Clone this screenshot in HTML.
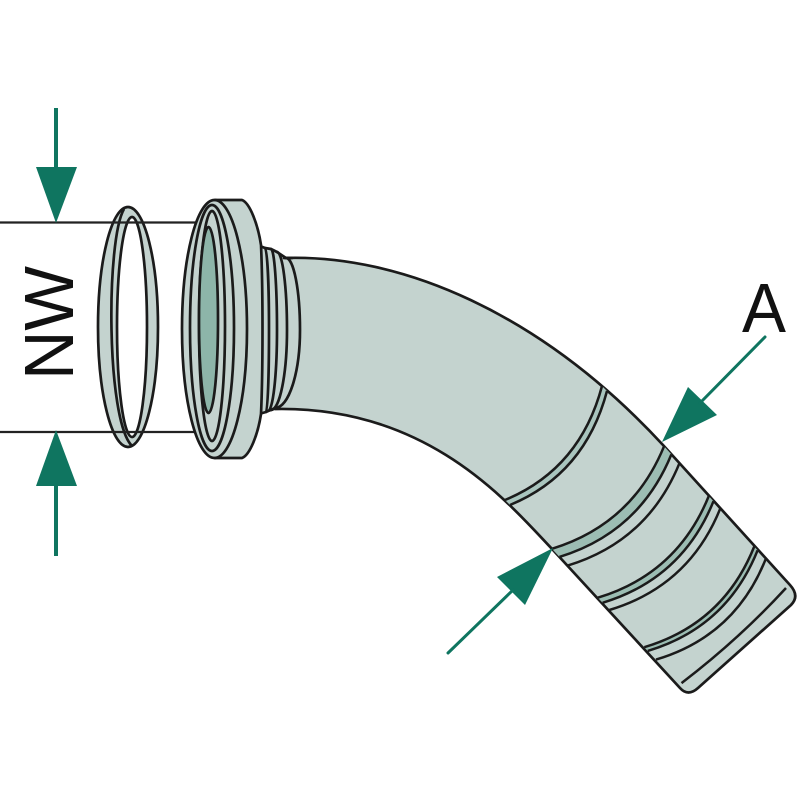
<!DOCTYPE html>
<html>
<head>
<meta charset="utf-8">
<style>
html,body{margin:0;padding:0;background:#fff}
svg{display:block}
</style>
</head>
<body>
<svg width="800" height="800" viewBox="0 0 800 800" xmlns="http://www.w3.org/2000/svg">
<rect width="800" height="800" fill="#ffffff"/>

<!-- O-ring -->
<g stroke="#1b1b1b" stroke-width="2.7">
  <ellipse cx="128" cy="327" rx="30" ry="120" fill="#c4d3cf"/>
  <path d="M124,209 C106,240 106,420 132,446" fill="none"/>
  <ellipse cx="132" cy="327" rx="15" ry="110" fill="#ffffff"/>
</g>

<!-- NW dimension lines -->
<g stroke="#222" stroke-width="2.2">
  <line x1="0" y1="222.5" x2="214" y2="222.5"/>
  <line x1="0" y1="432" x2="214" y2="432"/>
</g>

<!-- Pipe body -->
<path d="M284,258 C400,254 540,312 663,445 L790,585 Q800,596 791,605 L698,688 Q688,697 680,688 L553,550 C510,505 430,406 275,409 L270,330 Z" fill="#c4d3cf" stroke="none"/>

<!-- Neck fill -->
<path d="M248,244 L265,248 L271,249 L277,252 L286,258 C293.7,258 300,290.4 300,330 C300,372.9 288.75,408 275,408 L250,416 Z" fill="#c4d3cf" stroke="none"/>

<g fill="none" stroke="#1b1b1b" stroke-width="2.7" stroke-linejoin="round" stroke-linecap="round">
  <!-- threads -->
  <path d="M265,248 C267.2,248 269,284.9 269,330 C269,375.1 267.65,412 266,412"/>
  <path d="M271,249 C274.3,249 277,285.45 277,330 C277,374.55 273,411 268,411"/>
  <path d="M277,252 C282.5,252 287,287.1 287,330 C287,374 279.8,410 271,410"/>
  <path d="M286,258 C293.7,258 300,290.4 300,330 C300,372.9 288.75,408 275,408"/>
  <path d="M260,246 L265,248 L271,249 L277,252 L286,258 L292,258"/>
  <path d="M259,414 L266,412 L268,411 L271,410 L275,408"/>
  <!-- pipe outline -->
  <path d="M284,258 C400,254 540,312 663,445 L790,585 Q800,596 791,605 L698,688 Q688,697 680,688 L553,550 C510,505 430,406 275,409"/>
</g>

<!-- Flange -->
<g stroke="#1b1b1b" stroke-width="2.7" stroke-linejoin="round">
  <path d="M214.5,200 L242,200 C250,203 258,225 261,245 C263,290 263,370 261,414 C258,434 250,455 242,458 L214.5,458 A32.5,129 0 0 1 214.5,200 Z" fill="#c4d3cf"/>
  <path d="M214.5,200 A32.5,129 0 0 1 214.5,458" fill="none"/>
  <ellipse cx="212" cy="328" rx="22" ry="123" fill="none"/>
  <ellipse cx="212" cy="326" rx="13" ry="115" fill="#c4d3cf"/>
  <ellipse cx="208.5" cy="320" rx="9.5" ry="93" fill="#8db5a9"/>
</g>

<!-- Bands -->
<g stroke="#1b1b1b" stroke-width="2.5" stroke-linejoin="round">
  <path d="M602,386 Q580,469 505,500 L510,505 Q585,474 607,391 Z" fill="#a9c5be" stroke="none"/>
  <path d="M602,386 Q580,469 505,500" fill="none"/>
  <path d="M607,391 Q585,474 510,505" fill="none"/>

  <path d="M664.1,446.2 Q632.1,524.2 551.9,548.8 L559.4,556.9 Q639.5,532.3 671.4,454.4 Z" fill="#9cbdb3" stroke="none"/>
  <path d="M664.1,446.2 Q632.1,524.2 551.9,548.8" fill="none"/>
  <path d="M671.4,454.4 Q639.5,532.3 559.4,556.9" fill="none"/>
  <path d="M679.4,463.3 Q647.7,541.2 567.7,565.6" fill="none"/>

  <path d="M708.8,496 Q677.4,573.6 597.8,597.7 L602.6,602.8 Q682.1,578.7 713.5,501.2 Z" fill="#9cbdb3" stroke="none"/>
  <path d="M708.8,496 Q677.4,573.6 597.8,597.7" fill="none"/>
  <path d="M713.5,501.2 Q682.1,578.7 602.6,602.8" fill="none"/>
  <path d="M720.2,508.7 Q688.9,586.1 609.4,610" fill="none"/>

  <path d="M754.2,546.6 Q723.4,623.6 644.3,647.2 L647.8,650.9 Q726.8,627.3 757.6,550.3 Z" fill="#9cbdb3" stroke="none"/>
  <path d="M754.2,546.6 Q723.4,623.6 644.3,647.2" fill="none"/>
  <path d="M757.6,550.3 Q726.8,627.3 647.8,650.9" fill="none"/>
  <path d="M765.6,559.3 Q734.9,636.2 656,659.6" fill="none"/>

  <path d="M786,588 Q738.9,639.3 681.5,683.1" fill="none"/>
</g>

<!-- Arrows -->
<g fill="#0f7560" stroke="none">
  <rect x="54" y="108" width="4" height="62"/>
  <polygon points="36,167 77,167 56,223"/>
  <rect x="54" y="484" width="4" height="72"/>
  <polygon points="56,430 36,486 77,486"/>
  <polygon points="662,442 688,387 717,415"/>
  <polygon points="553,548 497,577 525,605"/>
</g>
<g stroke="#0f7560" stroke-width="3" stroke-linecap="round">
  <line x1="765" y1="337" x2="700" y2="403"/>
  <line x1="448" y1="653" x2="513" y2="590"/>
</g>

<!-- Labels -->
<text transform="translate(73,380) rotate(-90)" font-family="Liberation Sans, Arial, sans-serif" font-size="70" textLength="114" lengthAdjust="spacingAndGlyphs" fill="#111">NW</text>
<text x="742" y="332" font-family="Liberation Sans, Arial, sans-serif" font-size="70" textLength="44" lengthAdjust="spacingAndGlyphs" fill="#111">A</text>
</svg>
</body>
</html>
